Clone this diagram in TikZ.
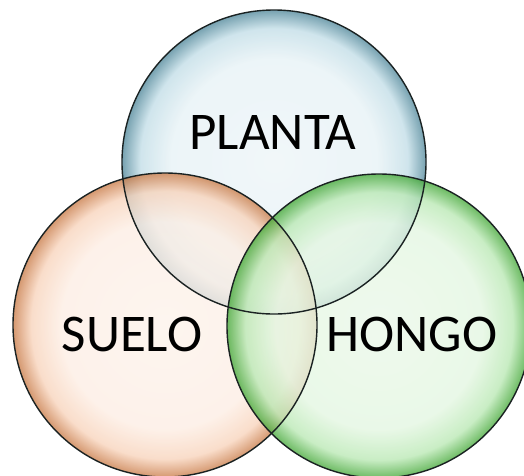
\documentclass[tikz,border=0pt]{standalone}
\usepackage{fontspec}
\setmainfont{Carlito}
\usetikzlibrary{positioning}
\definecolor{cblue}{HTML}{6AADC4}
\definecolor{corange}{HTML}{EE955A}
\definecolor{cgreen}{HTML}{56C848}
\definecolor{crim}{HTML}{1A2222}
\pgfdeclareradialshading{bubbleblue}{\pgfpoint{0bp}{0bp}}{%
  color(0bp)=(cblue!12!white); color(17bp)=(cblue!16!white);
  color(22bp)=(cblue!40!white); color(25bp)=(cblue!80!black); color(50bp)=(cblue!80!black)}
\pgfdeclareradialshading{bubbleorange}{\pgfpoint{0bp}{0bp}}{%
  color(0bp)=(corange!12!white); color(17bp)=(corange!16!white);
  color(22bp)=(corange!40!white); color(25bp)=(corange!85!black); color(50bp)=(corange!85!black)}
\pgfdeclareradialshading{bubblegreen}{\pgfpoint{0bp}{0bp}}{%
  color(0bp)=(cgreen!12!white); color(17bp)=(cgreen!16!white);
  color(22bp)=(cgreen!40!white); color(25bp)=(cgreen!85!black); color(50bp)=(cgreen!85!black)}
\tikzset{
  bubble/.style={circle, minimum size=304pt, inner sep=0pt, shading=#1, fill opacity=0.8},
  rim/.style={draw=crim, line width=1.4pt},
  tag/.style={font=\fontsize{53}{60}\selectfont, text=black, inner sep=0pt},
}

\begin{document}
\begin{tikzpicture}[x=1pt, y=-1pt]
  \useasboundingbox (0,0) rectangle (524,475);
  % the three sets
  \node[bubble=bubbleblue] (planta) at (274,162) {};
  \node[bubble=bubbleorange] (suelo) at (165,325) {};
  \node[bubble=bubblegreen] (hongo) at (379,326) {};
  % outlines on top, so every boundary shows
  \foreach \s in {planta, suelo, hongo}
    \draw[rim] (\s.center) circle[radius=152pt];
  % names
  \node[tag] (tplanta) at (273,132) {PLANTA};
  \node[tag] (tsuelo) at (132,334) {SUELO};
  \node[tag] (thongo) at (412,334) {HONGO};
\end{tikzpicture}
\end{document}
